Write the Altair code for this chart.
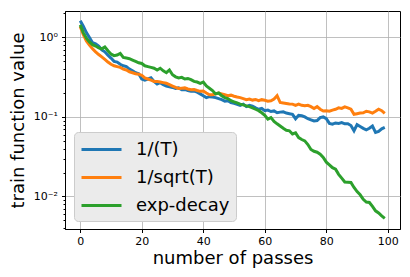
import altair as alt
import pandas as pd

passes = list(range(100))

blue = [
    1.62, 1.38, 1.15, 1.0, 0.86, 0.83, 0.78, 0.70, 0.66, 0.60,
    0.55, 0.50, 0.49, 0.46, 0.44, 0.43, 0.40, 0.38, 0.36, 0.35,
    0.30, 0.29, 0.30, 0.31, 0.28, 0.26, 0.27, 0.255, 0.245, 0.24,
    0.235, 0.228, 0.232, 0.22, 0.222, 0.215, 0.21, 0.212, 0.205, 0.195,
    0.185, 0.175, 0.18, 0.178, 0.175, 0.17, 0.165, 0.158, 0.16, 0.152,
    0.148, 0.144, 0.14, 0.145, 0.135, 0.14, 0.137, 0.13, 0.125, 0.128,
    0.12, 0.122, 0.117, 0.119, 0.113, 0.115, 0.116, 0.112, 0.11, 0.108,
    0.095, 0.105, 0.104, 0.1, 0.095, 0.092, 0.089, 0.09, 0.098, 0.1,
    0.095, 0.083, 0.081, 0.084, 0.083, 0.085, 0.082, 0.082, 0.078, 0.067,
    0.08, 0.076, 0.072, 0.069, 0.072, 0.077, 0.064, 0.066, 0.071, 0.074,
]

orange = [
    1.37, 1.08, 0.90, 0.80, 0.72, 0.66, 0.61, 0.57, 0.53, 0.49,
    0.46, 0.44, 0.43, 0.42, 0.40, 0.39, 0.37, 0.36, 0.35, 0.345,
    0.335, 0.31, 0.30, 0.29, 0.28, 0.28, 0.275, 0.27, 0.265, 0.255,
    0.245, 0.235, 0.228, 0.23, 0.232, 0.225, 0.22, 0.222, 0.215, 0.21,
    0.212, 0.2, 0.19, 0.19, 0.195, 0.2, 0.195, 0.19, 0.185, 0.188,
    0.182, 0.178, 0.175, 0.17, 0.165, 0.168, 0.163, 0.166, 0.16, 0.165,
    0.162, 0.158, 0.16, 0.168, 0.185, 0.152, 0.15, 0.148, 0.146, 0.145,
    0.14, 0.145, 0.14, 0.138, 0.14, 0.135, 0.128, 0.135, 0.125, 0.119,
    0.12, 0.118, 0.122, 0.125, 0.13, 0.128, 0.134, 0.13, 0.125, 0.108,
    0.11, 0.112, 0.113, 0.118, 0.116, 0.112, 0.118, 0.125, 0.12, 0.111,
]

green = [
    1.44, 1.15, 0.98, 0.88, 0.81, 0.78, 0.74, 0.72, 0.76, 0.68,
    0.62, 0.59, 0.60, 0.63, 0.56, 0.55, 0.54, 0.52, 0.50, 0.48,
    0.47, 0.44, 0.43, 0.42, 0.41, 0.39, 0.41, 0.38, 0.36, 0.39,
    0.34, 0.32, 0.31, 0.315, 0.30, 0.305, 0.295, 0.28, 0.275, 0.265,
    0.275, 0.245, 0.23, 0.215, 0.195, 0.2, 0.185, 0.175, 0.17, 0.16,
    0.155, 0.15, 0.145, 0.142, 0.138, 0.135, 0.13, 0.125, 0.12, 0.113,
    0.105, 0.094, 0.098, 0.088, 0.082, 0.077, 0.072, 0.068, 0.067, 0.061,
    0.063, 0.055, 0.052, 0.05, 0.045, 0.039, 0.037, 0.036, 0.034, 0.031,
    0.027, 0.025, 0.023, 0.022, 0.019, 0.017, 0.0152, 0.0151, 0.015, 0.013,
    0.0115, 0.0105, 0.0092, 0.0085, 0.0084, 0.0075, 0.0066, 0.0062, 0.0057, 0.0053,
]

series_names = ["1/(T)", "1/sqrt(T)", "exp-decay"]
series_colors = ["#1f77b4", "#ff7f0e", "#2ca02c"]
x_ticks = [0, 20, 40, 60, 80, 100]
y_ticks = [0.004, 0.005, 0.006, 0.007, 0.008, 0.009, 0.01,
           0.02, 0.03, 0.04, 0.05, 0.06, 0.07, 0.08, 0.09, 0.1,
           0.2, 0.3, 0.4, 0.5, 0.6, 0.7, 0.8, 0.9, 1.0, 2.0]

rows = []
for name, vals in zip(series_names, [blue, orange, green]):
    for p, v in zip(passes, vals):
        rows.append({"pass": p, "value": v, "series": name})
df = pd.DataFrame(rows)

FONT = "DejaVu Sans"
major_test = "abs(log(datum.value)/LN10 - round(log(datum.value)/LN10)) < 0.001"

x_enc = alt.X(
    "pass:Q",
    scale=alt.Scale(domain=[-4.95, 103.95], nice=False, zero=False),
    axis=alt.Axis(
        values=x_ticks, title="number of passes", format="d",
        titleFontSize=18, titleFont=FONT, titleFontWeight="normal", titleColor="black",
        titleX=167.5, titleY=34, titleAlign="center", titleBaseline="alphabetic",
        labelFontSize=11, labelFont=FONT, labelColor="black", labelPadding=3,
        labelFlush=False, tickSize=3.5, tickColor="black", tickWidth=1,
        grid=True, gridColor="#b0b0b0", gridWidth=0.8,
        domainColor="black", domainWidth=1,
    ),
)
y_enc = alt.Y(
    "value:Q",
    scale=alt.Scale(type="log", domain=[0.0039, 2.15], nice=False),
    axis=alt.Axis(
        values=y_ticks, title="train function value",
        labelExpr="abs(datum.value-1)<1e-9 ? '10⁰' : abs(datum.value-0.1)<1e-9 ? '10⁻¹' : abs(datum.value-0.01)<1e-9 ? '10⁻²' : ''",
        labelOverlap=False, labelFlush=False,
        titleFontSize=18, titleFont=FONT, titleFontWeight="normal", titleColor="black",
        titleX=-47, titleY=109, titleAngle=270, titleAlign="center", titleBaseline="middle",
        labelFontSize=11, labelFont=FONT, labelColor="black", labelPadding=4,
        tickSize={"condition": {"test": major_test, "value": 3.5}, "value": 2},
        tickColor="black", tickWidth=1,
        grid=True, gridColor="#b0b0b0", gridWidth=0.8,
        gridOpacity={"condition": {"test": major_test, "value": 1}, "value": 0},
        domainColor="black", domainWidth=1,
    ),
)

lines = alt.Chart(df).mark_line(strokeWidth=3, clip=True).encode(
    x=x_enc,
    y=y_enc,
    color=alt.Color(
        "series:N",
        scale=alt.Scale(domain=series_names, range=series_colors),
        legend=alt.Legend(
            title=None, orient="none", legendX=9, legendY=121,
            symbolType="M-1,0L3,0", symbolSize=400, symbolStrokeWidth=3,
            labelFontSize=18, labelFont=FONT, labelColor="black",
            labelOffset=33, rowPadding=7, padding=6,
            fillColor="#ebebeb", strokeColor="#cccccc", cornerRadius=4,
        ),
    ),
)

# soft drop shadow behind the legend box (decoration only)
shadow = alt.Chart(pd.DataFrame({"k": [0]})).mark_rect(
    color="#7f7f7f", opacity=0.5, cornerRadius=4
).encode(
    x=alt.value(12), x2=alt.value(170),
    y=alt.value(124), y2=alt.value(210),
)

chart = alt.layer(lines, shadow).properties(
    width=335, height=218,
    autosize=alt.AutoSizeParams(type="none"),
    padding={"left": 57, "top": 3, "right": 2, "bottom": 40},
).configure_view(stroke="black", strokeWidth=1)

chart.save("out.html", embed_options={"renderer": "svg", "actions": False})
